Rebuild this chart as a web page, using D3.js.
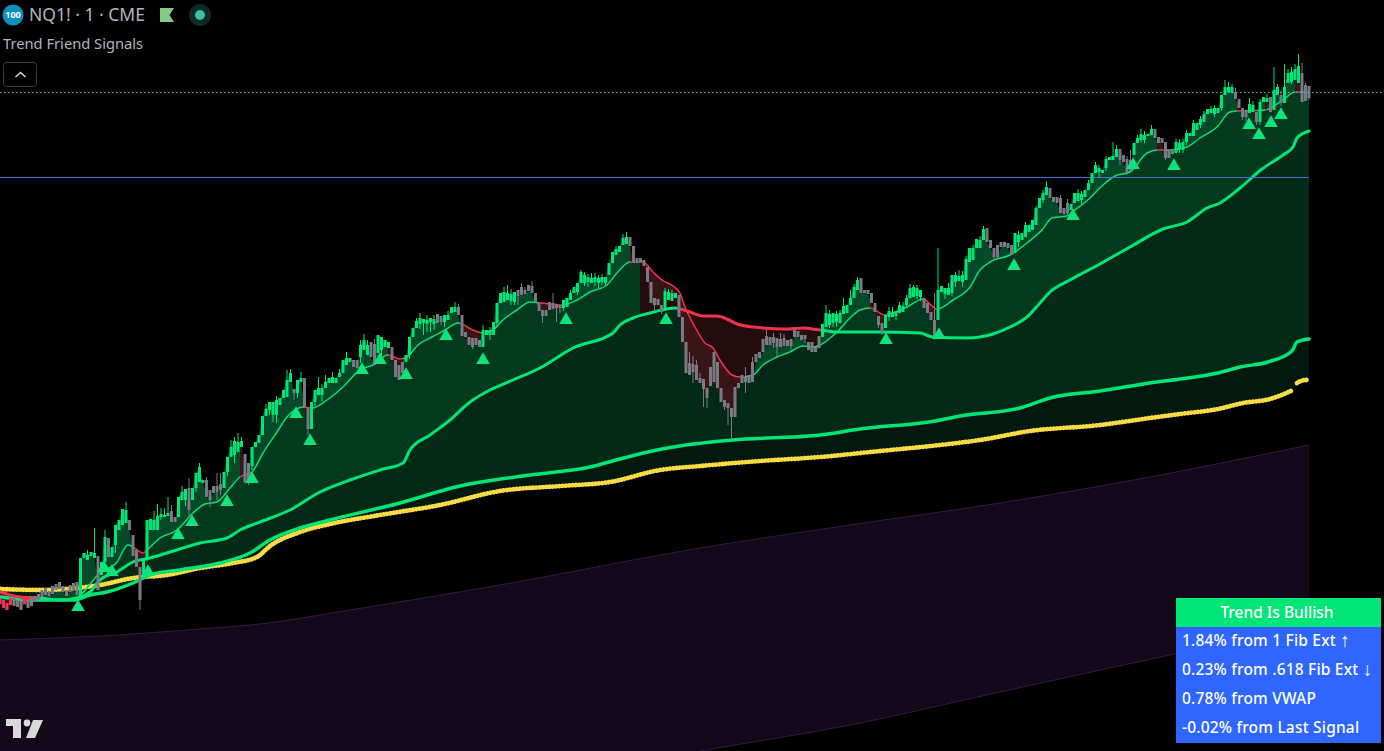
<!DOCTYPE html>
<html lang="en">
<head>
<meta charset="UTF-8">
<title>NQ1! Trend Friend Signals</title>
<script src="https://d3js.org/d3.v7.min.js"></script>
<style>
  html, body { margin: 0; padding: 0; background: #000; overflow: hidden; }
  svg { display: block; }
  text { font-family: "Noto Sans", sans-serif; }
</style>
</head>
<body>
<div id="chart"></div>
<script>
// candle values, chart units, one row per 10 bars
var opens = [
153,151,148,153,154,151,150,153,151,154, 155,157,161,163,160,165,167,169,165,161,
166,168,169,156,193,191,195,193,195,176, 189,213,194,206,221,226,228,231,216,201,
184,176,193,221,221,221,234,234,235,240, 234,234,251,251,263,251,263,269,268,271,
261,265,265,267,263,279,294,296,299,304, 297,288,285,304,308,316,335,341,336,336,
346,353,354,369,362,358,369,373,343,322, 349,356,356,363,368,368,368,374,378,386,
389,391,391,394,401,396,409,407,398,401, 404,403,404,391,386,389,389,396,414,423,
427,428,427,429,427,437,435,429,431,438, 439,444,436,419,414,413,413,411,404,416,
416,416,428,448,449,451,450,449,461,464, 461,466,465,458,449,441,441,449,448,446,
446,443,444,451,458,459,468,468,469,468, 469,468,469,468,476,488,496,499,506,507,
514,505,493,493,491,484,469,453,452,446, 443,451,450,453,456,434,409,388,387,386,
373,372,363,384,399,389,363,351,348,343, 364,368,376,374,376,389,397,399,412,415,
414,414,413,412,413,411,412,421,420,416, 416,409,409,404,415,414,424,426,428,429,
428,437,438,446,453,461,473,461,461,458, 448,435,428,423,434,434,435,438,439,446,
453,454,455,454,453,448,439,431,431,459, 457,456,458,469,470,469,471,489,491,503,
503,511,523,511,503,506,509,509,508,506, 498,509,511,514,519,521,526,543,551,556,
563,554,554,553,543,548,541,548,550,551, 554,561,568,578,579,578,583,591,591,594,
602,596,592,591,596,608,611,611,615,616, 622,614,613,609,601,602,598,602,601,609,
615,615,621,626,629,637,638,637,638,643, 656,659,658,659,652,643,641,638,639,639,
629,649,649,654,641,656,656,648,668,669, 671,668,678,666,665
];
var closes = [
147,143,141,146,145,144,141,147,143,145, 150,151,154,156,155,157,161,162,159,155,
159,161,156,193,198,196,199,198,161,189, 214,194,204,226,231,242,241,221,195,184,
151,193,231,232,231,235,237,236,238,229, 229,254,259,262,241,263,278,284,271,254,
251,258,259,261,279,294,304,310,309,310, 269,268,304,309,316,335,342,349,349,351,
353,361,371,378,358,371,373,343,322,349, 361,363,363,369,373,374,373,378,391,393,
393,384,383,406,411,406,394,386,416,414, 411,409,391,374,371,378,396,414,423,430,
433,432,431,433,432,428,429,436,436,444, 444,436,415,414,406,404,406,404,421,421,
421,429,448,458,459,458,457,459,455,456, 457,460,458,449,440,435,435,441,442,443,
443,451,453,458,464,468,479,476,474,473, 474,473,474,474,488,499,502,505,513,514,
505,488,488,489,485,469,448,446,446,439, 460,459,458,458,434,409,378,376,379,371,
368,362,353,365,369,363,349,344,343,334, 334,363,368,369,368,369,389,393,399,406,
406,408,404,404,405,405,405,414,414,411, 412,401,399,399,403,427,438,437,438,437,
438,445,446,453,464,471,458,458,457,448, 439,426,419,436,440,439,440,446,445,453,
463,464,463,461,443,438,431,413,461,465, 463,463,476,476,475,476,492,503,503,512,
511,522,509,503,494,494,504,504,503,496, 518,516,518,526,526,531,543,553,558,564,
553,549,548,538,537,538,547,558,558,557, 561,568,578,586,583,581,592,594,595,602,
591,589,579,580,608,613,617,616,617,622, 613,608,608,593,593,597,609,608,609,618,
618,628,628,632,637,642,642,643,643,656, 664,664,664,652,643,634,634,647,646,629,
649,654,653,639,661,664,648,664,678,679, 682,685,649,650,653
];
var redBars = [0, 1, 2, 3, 7];

// the longer wicks
var wickBars = [27,30,36,40,45,47,48,49,54,59,60,62,63,66,68,70,71,78,82,84,86,88,91,93,105,107,121,123,127,130,135,138,145,147,148,149,155,158,159,166,169,173,187,189,191,197,198,199,200,201,202,207,208,209,213,215,219,222,223,227,236,241,243,245,251,252,255,258,261,267,268,270,274,284,285,299,303,313,318,320,323,329,333,341,350,351,353,357,358,359,364,366,367,371,372,373];
var wickUp   = [25,7,8,0,12,7,16,6,10,3,0,13,11,7,9,0,0,0,10,0,6,0,11,7,5,5,0,0,0,5,0,5,8,0,0,4,0,10,0,2,5,0,0,0,3,11,8,5,5,0,0,0,0,0,10,5,6,0,6,3,8,8,8,3,0,0,5,4,2,27,42,0,6,0,0,6,3,3,14,0,10,4,0,3,7,5,4,6,4,0,23,5,23,12,10,2];
var wickDown = [0,0,0,10,0,0,0,0,7,0,7,8,5,0,0,2,2,7,0,7,0,6,0,0,0,0,12,10,5,0,2,0,0,3,9,0,7,0,14,0,0,2,5,2,0,0,11,0,0,18,10,3,17,23,11,0,0,11,0,0,0,0,0,0,3,3,0,0,0,2,0,5,0,3,3,0,0,0,0,5,0,0,2,0,0,0,0,0,0,3,0,3,0,0,0,0];

// the short wicks
var tickBars = [25,33,42,44,46,52,53,56,57,65,67,69,72,76,77,79,83,85,90,92,95,97,99,103,104,109,117,119,120,122,124,126,128,131,140,142,144,146,150,152,160,161,163,165,167,168,170,171,172,176,178,179,190,192,221,224,226,230,237,238,239,240,244,254,256,257,259,260,262,263,271,272,273,275,276,278,280,281,291,293,296,298,305,308,309,311,314,316,319,322,325,326,327,336,337,338,339,343,344,346,347,349,352,355,356,360,362,365,368,369,370,374];
var tickUp   = [5,0,0,9,6,6,0,0,4,0,4,4,0,5,0,4,4,0,0,4,5,4,6,5,6,0,0,3,5,5,4,0,4,3,3,0,5,5,3,5,0,0,3,0,3,3,4,3,3,3,4,5,3,3,4,4,0,0,4,0,3,3,3,4,0,3,3,4,3,0,5,0,3,4,3,3,4,3,4,3,2,3,4,4,3,3,3,3,4,3,3,5,4,3,4,3,3,3,3,3,3,0,3,0,0,3,4,3,4,5,5,0];
var tickDown = [0,8,3,0,3,0,6,4,0,4,8,0,4,0,5,8,0,5,4,6,0,0,0,6,0,6,4,0,5,8,6,3,0,0,5,4,0,4,0,0,5,3,0,3,3,5,4,5,3,0,0,0,0,0,5,0,4,4,3,4,5,0,0,4,4,0,3,0,3,4,0,3,5,5,0,0,0,0,5,0,0,3,3,0,4,0,5,3,0,3,0,3,3,0,4,3,3,3,0,0,3,3,0,3,4,3,0,0,0,2,0,2];

// fast trend line
var fastT = [0,15,30,50,75,100,117,128,133,143, 147,160,177,193,205,217,230,240,252,263, 277,287,295,303,312,327,343,360,373,388, 400,407,418,432,445,458,473,483,493,503, 517,530,540,552,562,577,590,607,617,630, 643,653,662,673,680,685,695,705,713,720, 732,740,753,763,777,790,803,813,820,837, 850,860,870,885,893,907,923,937,953,970, 980,990,1010,1027,1042,1052,1067,1075,1090,1103, 1115,1130,1147,1158,1170,1187,1200,1217,1230,1237, 1265,1283,1295,1309];
var fastV = [160,155,151,151,153,178,189,206,204,198, 201,213,221,238,247,249,263,274,279,298, 319,334,341,344,343,351,364,381,386,396, 392,394,406,414,421,428,421,418,421,431, 441,449,448,447,446,451,459,466,478,489, 489,479,471,465,458,444,424,408,403,391, 376,374,376,386,394,399,405,404,406,419, 433,441,443,436,438,444,452,442,451,464, 481,489,496,508,521,533,535,541,553,566, 575,579,598,601,601,604,613,624,639,640, 641,651,659,659];
var fastBear = [[0,35],[133,146],[240,245],[303,310],[388,403],[460,485],[538,563],[630,745],[870,888],[925,938],[1157,1165],[1237,1247],[1253,1257],[1265,1267],[1295,1300]];

// middle trend line
var midT = [0,20,40,60,78,90,100,117,133,150, 167,200,227,240,260,290,320,350,380,403, 410,430,450,470,490,513,540,573,613,620, 633,650,675,687,703,717,727,737,753,787, 803,820,837,877,920,933,967,993,1010,1027, 1040,1050,1070,1100,1130,1163,1187,1207,1220,1240, 1262,1283,1293,1297,1309];
var midV = [159,154,153,151,153,159,171,179,189,193, 198,208,213,221,229,241,259,271,281,288, 301,316,331,349,361,371,383,403,418,426, 433,438,443,440,435,435,432,427,424,422, 423,421,419,419,418,414,413,417,424,434, 448,459,471,487,504,522,529,543,548,563, 582,596,604,613,620];
var midBear = [[0,40],[677,822]];
var cloudBear = [[0,40],[640,822]];

// slow trend line
var slowT = [0,33,73,90,107,133,150,180,220,250, 270,300,330,400,460,530,590,620,657,680, 733,820,860,935,960,1020,1050,1100,1150,1180, 1218,1240,1268,1292,1297,1309];
var slowV = [154,151,151,156,159,168,176,181,188,198, 211,223,231,248,265,276,284,292,301,305, 311,316,322,330,335,343,353,360,368,372, 378,384,389,400,409,412];

// VWAP, it restarts near the end of the chart
var vwapT = [0,40,77,100,133,167,200,233,257,270, 300,330,380,440,500,560,610,660,700,760, 820,880,940,980,1030,1100,1150,1180,1218,1243, 1270,1293];
var vwapV = [162,161,163,166,173,176,183,188,194,205, 219,227,236,246,260,265,269,281,285,290, 294,300,306,311,320,326,333,337,342,348, 352,361];
var vwapNewT = [1297,1305,1309];
var vwapNewV = [368,371,371];

// purple band edges
var bandTopT = [0,100,200,260,350,500,700,850,1000,1150,1309];
var bandTopV = [111,115,122,127,141,166,203,226,248,274,306];
var bandLowT = [0,700,850,1000,1170,1309];
var bandLowV = [-129,0,26,59,96,125];

// levels
var fibLevel = 659;
var otherLevel = 574;

// buy signals
var signalT = [78,104,112,148,178,192,227,252,296,310,362,380,406,446,483,566,666,886,939,1014,1073,1133,1174,1249,1259,1271,1281];
var signalV = [146,185,181,181,218,231,251,274,339,312,383,393,378,417,393,433,433,413,418,487,537,588,587,628,618,630,638];

var tableTitle = "Trend Is Bullish";
var tableRows = ["1.84% from 1 Fib Ext", "0.23% from .618 Fib Ext", "0.78% from VWAP", "-0.02% from Last Signal"];
var tableArrows = ["↑", "↓", "", ""];

var width = 1384, height = 751, barStep = 3.5, chartEnd = 1309;
var green = "#00e676", gray = "#787b86";

var x = d3.scaleLinear().domain([0, width]).range([0, width]);
var y = d3.scaleLinear().domain([0, height]).range([height, 0]);

var svg = d3.select("#chart").append("svg")
  .attr("width", width)
  .attr("height", height)
  .style("background", "#000");

var defs = svg.append("defs");

function zip(ts, vs) { return ts.map(function (t, i) { return [t, vs[i]]; }); }

var fastPts = zip(fastT, fastV), midPts = zip(midT, midV), slowPts = zip(slowT, slowV);
var vwapPts = zip(vwapT, vwapV), vwapNewPts = zip(vwapNewT, vwapNewV);
var closePts = closes.map(function (c, i) { return [i * barStep, c]; });

var line = d3.line().x(function (d) { return x(d[0]); }).y(function (d) { return y(d[1]); }).curve(d3.curveMonotoneX);
var poly = d3.line().x(function (d) { return x(d[0]); }).y(function (d) { return y(d[1]); });

function band(a, b) { return poly(a.concat(b.slice().reverse())) + "Z"; }

// clip paths for the bear and bull stretches of a trend line
function complement(spans) {
  var out = [], from = 0;
  spans.forEach(function (s) { out.push([from, s[0]]); from = s[1]; });
  out.push([from, chartEnd + 2]);
  return out;
}
function addClip(id, spans) {
  defs.append("clipPath").attr("id", id).selectAll("rect")
    .data(spans).enter().append("rect")
    .attr("x", function (d) { return x(d[0]); })
    .attr("width", function (d) { return x(d[1]) - x(d[0]); })
    .attr("y", 0)
    .attr("height", height);
}
addClip("fastBear", fastBear);
addClip("fastBull", complement(fastBear));
addClip("midBear", midBear);
addClip("midBull", complement(midBear));
addClip("cloudBear", cloudBear);
addClip("cloudBull", complement(cloudBear));

// purple band
svg.append("path").attr("d", band(zip(bandTopT, bandTopV), zip(bandLowT, bandLowV))).attr("fill", "#13081a");
[[bandTopT, bandTopV], [bandLowT, bandLowV]].forEach(function (e) {
  svg.append("path").attr("d", line(zip(e[0], e[1]))).attr("fill", "none").attr("stroke", "#3d1446").attr("stroke-width", 1);
});

// fills between the lines, back to front
svg.append("path").attr("d", band(slowPts, vwapPts.concat(vwapNewPts))).attr("fill", "#03190f");
svg.append("path").attr("d", band(midPts, slowPts)).attr("fill", "#032a17");
svg.append("path").attr("d", band(fastPts, midPts)).attr("fill", "#033a1e").attr("clip-path", "url(#cloudBull)");
svg.append("path").attr("d", band(fastPts, midPts)).attr("fill", "#220c0c").attr("clip-path", "url(#cloudBear)");
svg.append("path").attr("d", band(closePts, fastPts)).attr("fill", "#054a28").attr("clip-path", "url(#fastBull)");
svg.append("path").attr("d", band(closePts, fastPts)).attr("fill", "#3a1515").attr("clip-path", "url(#fastBear)");

// trend lines
function drawLine(pts, color, w, clip, dash) {
  var p = svg.append("path").attr("d", line(pts)).attr("fill", "none")
    .attr("stroke", color).attr("stroke-width", w).attr("stroke-linecap", "round");
  if (clip) p.attr("clip-path", "url(#" + clip + ")");
  if (dash) p.attr("stroke-dasharray", dash);
}
drawLine(vwapPts, "#f8dc45", 4.8, null, "0.1 3.2");
drawLine(vwapNewPts, "#f8dc45", 4.8, null, "0.1 3.2");
drawLine(slowPts, "#00e676", 3.5);
drawLine(midPts, "#00e676", 3, "midBull");
drawLine(midPts, "#f23350", 3, "midBear");
drawLine(fastPts, "#0fdc76", 1.5, "fastBull");
drawLine(fastPts, "#f23350", 1.5, "fastBear");

// blue level stops with the data, dotted one runs over the whole pane
svg.append("line")
  .attr("x1", x(0)).attr("x2", x(chartEnd))
  .attr("y1", y(otherLevel) + 0.5).attr("y2", y(otherLevel) + 0.5)
  .attr("stroke", "#4f6fd0").attr("stroke-width", 1);

// candles
var wicks = {};
tickBars.forEach(function (b, i) { wicks[b] = [tickUp[i], tickDown[i]]; });
wickBars.forEach(function (b, i) { wicks[b] = [wickUp[i], wickDown[i]]; });

var bars = opens.map(function (o, i) {
  var c = closes[i], w = wicks[i] || [0, 0];
  return {
    i: i, open: o, close: c,
    high: Math.max(o, c) + w[0],
    low: Math.min(o, c) - w[1],
    color: redBars.indexOf(i) >= 0 ? "#f5304f" : (c > o ? green : gray)
  };
});

var candles = svg.append("g").selectAll("g").data(bars).enter().append("g");
candles.append("line")
  .attr("x1", function (d) { return x(d.i * barStep); })
  .attr("x2", function (d) { return x(d.i * barStep); })
  .attr("y1", function (d) { return y(d.high); })
  .attr("y2", function (d) { return y(d.low); })
  .attr("stroke", function (d) { return d.color; })
  .attr("stroke-width", 1);
candles.append("rect")
  .attr("x", function (d) { return x(d.i * barStep) - 1.5; })
  .attr("width", 3)
  .attr("y", function (d) { return y(Math.max(d.open, d.close)); })
  .attr("height", function (d) { return Math.max(1, Math.abs(y(d.open) - y(d.close))); })
  .attr("fill", function (d) { return d.color; });

// buy triangles
svg.append("g").selectAll("path").data(zip(signalT, signalV)).enter().append("path")
  .attr("d", d3.symbol().type(d3.symbolTriangle).size(80))
  .attr("transform", function (d) { return "translate(" + x(d[0]) + "," + (y(d[1]) + 2) + ")"; })
  .attr("fill", "#0fe37b");

svg.append("line")
  .attr("x1", 0).attr("x2", width)
  .attr("y1", y(fibLevel) + 0.5).attr("y2", y(fibLevel) + 0.5)
  .attr("stroke", "#22d3c5").attr("stroke-width", 1).attr("stroke-dasharray", "1.5 2.5");

// chart title row
svg.append("circle").attr("cx", 13).attr("cy", 15).attr("r", 10.5).attr("fill", "#0b8fbf");
svg.append("text").attr("x", 13).attr("y", 18.3).attr("text-anchor", "middle")
  .attr("font-size", 9).attr("font-weight", 700).attr("fill", "#fff").text("100");
svg.append("text").attr("x", 29).attr("y", 21).attr("font-size", 17.5).attr("fill", "#b2b5be").text("NQ1! · 1 · CME");
svg.append("path").attr("d", "M160,8H174L169.5,15L174,22H160Z").attr("fill", "#85c98a");
svg.append("circle").attr("cx", 200).attr("cy", 15).attr("r", 11).attr("fill", "#0b2a28");
svg.append("circle").attr("cx", 200).attr("cy", 15).attr("r", 5).attr("fill", "#3dbda7");
svg.append("text").attr("x", 3).attr("y", 49).attr("font-size", 14.7).attr("fill", "#b2b5be").text("Trend Friend Signals");
svg.append("rect").attr("x", 3.5).attr("y", 62.5).attr("width", 33).attr("height", 24).attr("rx", 3)
  .attr("fill", "#000").attr("stroke", "#363a45");
svg.append("path").attr("d", "M15.5,77L20.5,72.5L25.5,77").attr("fill", "none").attr("stroke", "#d1d4dc").attr("stroke-width", 1.5);

// TradingView mark
svg.append("path").attr("d", "M6,719H21V738H13V726H6Z").attr("fill", "#d9d9d9");
svg.append("circle").attr("cx", 27).attr("cy", 723).attr("r", 3.4).attr("fill", "#d9d9d9");
svg.append("path").attr("d", "M33,720H43L35,738H26Z").attr("fill", "#d9d9d9");

// summary table
var table = svg.append("g");
table.append("rect").attr("x", 1176).attr("y", 598).attr("width", 205).attr("height", 29).attr("fill", "#00e676");
table.append("rect").attr("x", 1176).attr("y", 627).attr("width", 205).attr("height", 116).attr("fill", "#2f66ff");
table.append("text").attr("x", 1277).attr("y", 618).attr("text-anchor", "middle")
  .attr("font-size", 15.5).attr("font-weight", 500).attr("fill", "#fff").text(tableTitle);
var rows = table.selectAll("text.row").data(tableRows).enter().append("text")
  .attr("class", "row")
  .attr("x", 1182)
  .attr("y", function (d, i) { return 646 + i * 29; })
  .attr("font-size", 15.5).attr("font-weight", 500).attr("letter-spacing", 0.2).attr("fill", "#fff");
rows.append("tspan").text(function (d) { return d + " "; });
rows.append("tspan").attr("font-size", 19).attr("font-weight", 400).attr("dy", 1)
  .text(function (d, i) { return tableArrows[i]; });
</script>
</body>
</html>
